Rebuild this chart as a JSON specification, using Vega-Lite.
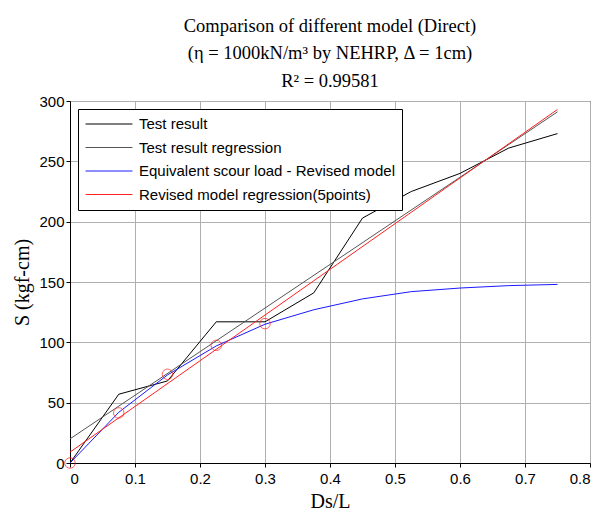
{
  "$schema": "https://vega.github.io/schema/vega-lite/v6.json",
  "width": 520,
  "height": 362,
  "autosize": {"type": "none"},
  "padding": {"left": 70, "top": 101, "right": 15, "bottom": 54},
  "background": "white",
  "title": {
    "text": ["Comparison of different model (Direct)", "(η = 1000kN/m³ by NEHRP, Δ = 1cm)", "R² = 0.99581"],
    "font": "Liberation Serif",
    "fontSize": 18.5,
    "fontWeight": "normal",
    "lineHeight": 27.5,
    "color": "black",
    "anchor": "middle",
    "offset": 4
  },
  "config": {
    "view": {"stroke": "black", "strokeWidth": 1},
    "axis": {
      "labelFont": "Liberation Sans",
      "labelFontSize": 15,
      "labelColor": "black",
      "titleFont": "Liberation Serif",
      "titleFontSize": 20,
      "titleFontWeight": "normal",
      "titleColor": "black",
      "domainColor": "black",
      "tickColor": "black",
      "tickSize": 4,
      "gridColor": "#b0b0b0",
      "gridOpacity": 1,
      "gridWidth": 1
    },
    "legend": {
      "labelFont": "Liberation Sans",
      "labelFontSize": 15,
      "labelColor": "black"
    }
  },
  "datasets": {
    "lines": [
      {"series": "Test result", "x": 0, "y": 0},
      {"series": "Test result", "x": 0.075, "y": 57},
      {"series": "Test result", "x": 0.15, "y": 68},
      {"series": "Test result", "x": 0.225, "y": 117},
      {"series": "Test result", "x": 0.3, "y": 117},
      {"series": "Test result", "x": 0.375, "y": 141},
      {"series": "Test result", "x": 0.45, "y": 203},
      {"series": "Test result", "x": 0.525, "y": 225},
      {"series": "Test result", "x": 0.6, "y": 240},
      {"series": "Test result", "x": 0.675, "y": 261},
      {"series": "Test result", "x": 0.75, "y": 273},
      {"series": "Test result regression", "x": 0, "y": 20},
      {"series": "Test result regression", "x": 0.75, "y": 291},
      {"series": "Equivalent scour load - Revised model", "x": 0, "y": 0},
      {"series": "Equivalent scour load - Revised model", "x": 0.075, "y": 42},
      {"series": "Equivalent scour load - Revised model", "x": 0.15, "y": 73},
      {"series": "Equivalent scour load - Revised model", "x": 0.225, "y": 97},
      {"series": "Equivalent scour load - Revised model", "x": 0.3, "y": 115},
      {"series": "Equivalent scour load - Revised model", "x": 0.375, "y": 127},
      {"series": "Equivalent scour load - Revised model", "x": 0.45, "y": 136},
      {"series": "Equivalent scour load - Revised model", "x": 0.525, "y": 142},
      {"series": "Equivalent scour load - Revised model", "x": 0.6, "y": 145},
      {"series": "Equivalent scour load - Revised model", "x": 0.675, "y": 147},
      {"series": "Equivalent scour load - Revised model", "x": 0.75, "y": 148},
      {"series": "Revised model regression(5points)", "x": 0, "y": 9},
      {"series": "Revised model regression(5points)", "x": 0.75, "y": 293}
    ],
    "circles": [
      {"x": 0, "y": 0},
      {"x": 0.075, "y": 41.5},
      {"x": 0.15, "y": 73.5},
      {"x": 0.225, "y": 97.5},
      {"x": 0.3, "y": 115.5}
    ]
  },
  "layer": [
    {
      "data": {"name": "lines"},
      "mark": {"type": "line", "strokeWidth": 1, "clip": true},
      "encoding": {
        "x": {
          "field": "x", "type": "quantitative",
          "scale": {"domain": [0, 0.8], "nice": false, "zero": false},
          "axis": {"title": "Ds/L", "values": [0, 0.1, 0.2, 0.3, 0.4, 0.5, 0.6, 0.7, 0.8], "format": ".1~f", "labelPadding": 4, "titlePadding": 5, "grid": true}
        },
        "y": {
          "field": "y", "type": "quantitative",
          "scale": {"domain": [0, 300], "nice": false},
          "axis": {"title": "S (kgf-cm)", "values": [0, 50, 100, 150, 200, 250, 300], "labelPadding": 2, "titlePadding": 6, "grid": true}
        },
        "color": {
          "field": "series", "type": "nominal",
          "scale": {
            "domain": ["Test result", "Test result regression", "Equivalent scour load - Revised model", "Revised model regression(5points)"],
            "range": ["#000000", "#555555", "#1a1aff", "#ff2020"]
          },
          "legend": {
            "title": null,
            "orient": "none",
            "legendX": 8,
            "legendY": 8,
            "symbolType": "stroke",
            "symbolSize": 2200,
            "symbolStrokeWidth": 1,
            "clipHeight": 16,
            "fillColor": "white",
            "strokeColor": "black",
            "padding": 7,
            "rowPadding": 7.5,
            "labelOffset": 6,
            "labelLimit": 400
          }
        },
        "detail": {"field": "series"}
      }
    },
    {
      "data": {"name": "circles"},
      "mark": {"type": "point", "shape": "circle", "filled": false, "stroke": "#ff2020", "strokeWidth": 1, "size": 110, "clip": false},
      "encoding": {
        "x": {"field": "x", "type": "quantitative"},
        "y": {"field": "y", "type": "quantitative"}
      }
    }
  ]
}
